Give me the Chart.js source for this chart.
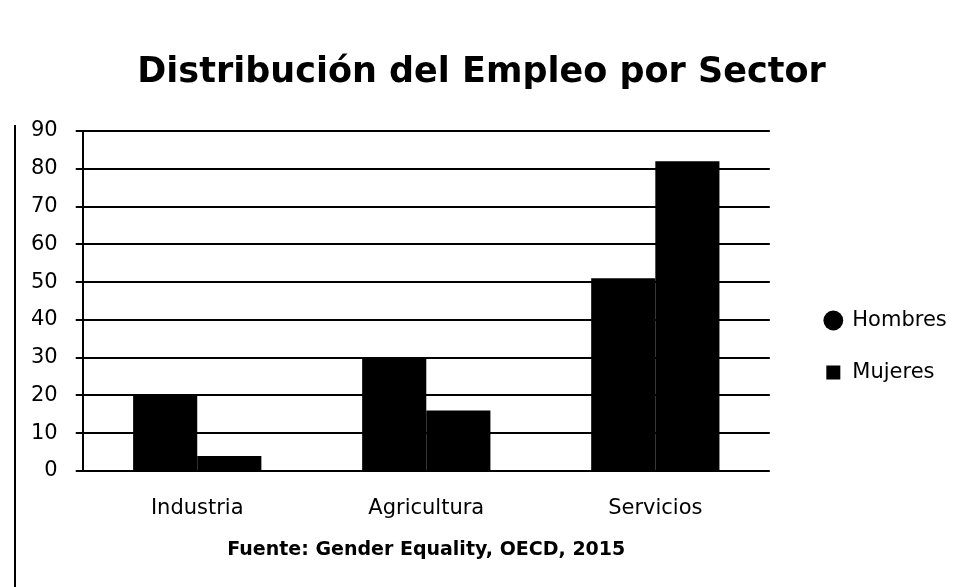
<!DOCTYPE html>
<html>
<head>
<meta charset="utf-8">
<script src="https://cdn.jsdelivr.net/npm/chart.js@4"></script>
<style>
    html, body { margin: 0; padding: 0; background: #fff; }
    #wrap { position: relative; width: 957px; height: 587px; }
    #edge { position: absolute; left: 14px; top: 125px; height: 462px; border-left: 2px solid #000; }
</style>
</head>
<body>
<div id="wrap">
    <canvas id="empleoChart" width="957" height="587"></canvas>
    <div id="edge"></div>
</div>
<script>
// Sectors and employment share (%) by sex
const sectores = ['Industria', 'Agricultura', 'Servicios'];
const hombres = [20, 30, 51];
const mujeres = [4, 16, 82];
const yMax = 90;
const yStep = 10;

const fontFamily = '"DejaVu Sans", sans-serif';

function initEmpleoChart() {
    const ctx = document.getElementById('empleoChart');
    if (!ctx) return;
    new Chart(ctx.getContext('2d'), {
        type: 'bar',
        data: {
            labels: sectores,
            datasets: [{
                label: 'Hombres',
                data: hombres,
                backgroundColor: '#000',
                pointStyle: 'circle'
            }, {
                label: 'Mujeres',
                data: mujeres,
                backgroundColor: '#000',
                pointStyle: 'rect'
            }]
        },
        options: {
            responsive: false,
            animation: false,
            categoryPercentage: 0.56,
            barPercentage: 1.0,
            layout: {
                padding: { top: 52, left: 13, right: 7, bottom: 26 }
            },
            plugins: {
                title: {
                    display: true,
                    text: 'Distribución del Empleo por Sector',
                    color: '#000',
                    font: { family: fontFamily, size: 35, weight: 'bold' },
                    padding: { top: 0, bottom: 37 }
                },
                legend: {
                    position: 'right',
                    // blank title only pushes the two entries down
                    title: {
                        display: true,
                        text: ' ',
                        font: { size: 10 },
                        padding: { top: 0, bottom: 68 }
                    },
                    labels: {
                        usePointStyle: true,
                        boxWidth: 17,
                        boxHeight: 14,
                        padding: 31,
                        color: '#000',
                        font: { family: fontFamily, size: 21 }
                    }
                },
                tooltip: { enabled: false }
            },
            scales: {
                x: {
                    grid: { display: false },
                    border: { display: false },
                    ticks: {
                        color: '#000',
                        padding: 17,
                        font: { family: fontFamily, size: 21 }
                    },
                    title: {
                        display: true,
                        text: 'Fuente: Gender Equality, OECD, 2015',
                        color: '#000',
                        font: { family: fontFamily, size: 19, weight: 'bold' },
                        padding: { top: 0, bottom: 0 }
                    }
                },
                y: {
                    min: 0,
                    max: yMax,
                    ticks: {
                        stepSize: yStep,
                        color: '#000',
                        padding: 18,
                        font: { family: fontFamily, size: 21 }
                    },
                    grid: {
                        color: '#000',
                        lineWidth: 2,
                        tickLength: 7
                    },
                    border: { display: true, color: '#000', width: 2 }
                },
                // empty right-hand axis, only keeps the gap before the legend
                gap: {
                    position: 'right',
                    display: true,
                    grid: { display: false },
                    border: { display: false },
                    ticks: { display: false },
                    afterFit: scale => { scale.width = 24; }
                }
            }
        }
    });
}

document.addEventListener('DOMContentLoaded', () => {
    initEmpleoChart();
});
</script>
</body>
</html>
